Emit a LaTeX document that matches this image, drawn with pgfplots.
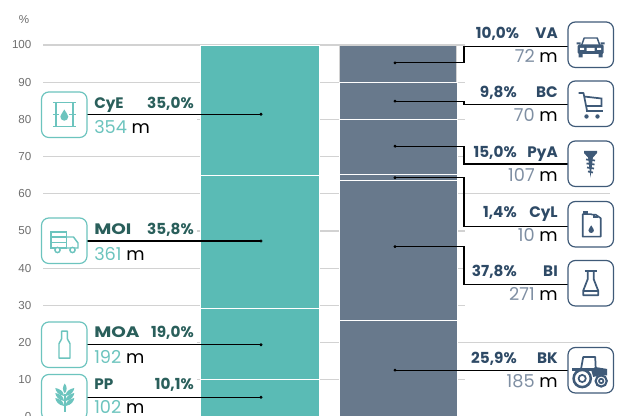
\documentclass[border=0pt]{standalone}
\usepackage{pgfplots}
\pgfplotsset{compat=1.18}
\usepackage{fontspec}
\setmainfont{Poppins}
\newfontfamily\tickf{Liberation Sans}
\definecolor{teal1}{HTML}{5ABBB5}
\definecolor{teal2}{HTML}{6CC4BE}
\definecolor{tealdk}{HTML}{2A5F5B}
\definecolor{slate1}{HTML}{68798C}
\definecolor{slatedk}{HTML}{2E4A66}
\definecolor{slatenum}{HTML}{7F8FA3}
\definecolor{iconblue}{HTML}{3F5A78}
\definecolor{gridc}{HTML}{D2D2D2}
\definecolor{tickc}{HTML}{6E6E6E}
\pgfplotsset{base/.style={
  at={(32.25pt,-0.75pt)},anchor=south west,scale only axis,
  width=425.25pt,height=279pt,xmin=43,xmax=610,ymin=0,ymax=100,
  clip=false,xtick=\empty,axis line style={draw=none},major tick length=0pt},
  segs/.style={base,ybar stacked,bar width=88.8pt},
  leader/.style={black,solid,line width=.85pt,no marks}}
\newcommand\bfs{\fontsize{11.4}{13}\selectfont\bfseries}
\newcommand\nfs{\fontsize{13.3}{15}\selectfont}
\newcommand\wide[1]{\scalebox{1.22}[1]{#1}}
\newcommand\ltxt[5]{% y1 y2 name pct num
  \node[anchor=base west,inner sep=0,text=tealdk] at (94,#1) {\bfs #3};
  \node[anchor=base east,inner sep=0,text=tealdk] at (194,#1) {\bfs #4};
  \node[anchor=base west,inner sep=0] at (94,#2) {\nfs\textcolor{teal2}{#5} m};}
\newcommand\rtxt[6]{% y1 y2 name pct num pctx
  \node[anchor=base east,inner sep=0,text=slatedk] at (558,#1) {\bfs #3};
  \node[anchor=base east,inner sep=0,text=slatedk] at (#6,#1) {\bfs #4};
  \node[anchor=base east,inner sep=0] at (558,#2) {\nfs\textcolor{slatenum}{#5} m};}
\newcommand\boxi[3]{\draw[#3,line width=.9pt,rounded corners=5.5pt] (#1,#2) rectangle +(45.5,45.5);}
\newcommand\dropp{(0,-7) .. controls (1.5,-3) and (5,-1) .. (5,2) .. controls (5,5) and (2.5,7) .. (0,7) .. controls (-2.5,7) and (-5,5) .. (-5,2) .. controls (-5,-1) and (-1.5,-3) .. (0,-7)}
\begin{document}
\begin{tikzpicture}
\path[use as bounding box] (0,0) rectangle (464.25pt,312pt);
\clip (0,0) rectangle (464.25pt,312pt);
% grid and left bar
\begin{axis}[segs,ytick={0,10,...,100},ymajorgrids,
  grid style={gridc,line width=.9pt},
  axis lines=left,
  /pgf/number format/assume math mode=true,
  yticklabel style={font=\tickf\fontsize{8.7}{10}\selectfont,text=tickc,inner sep=0pt,xshift=-8.5pt}]
\addplot[fill=teal1,draw=white,line width=.75pt] coordinates {(260,10.1)};
\addplot[fill=teal1,draw=white,line width=.75pt] coordinates {(260,19.0)};
\addplot[fill=teal1,draw=white,line width=.75pt] coordinates {(260,35.8)};
\addplot[fill=teal1,draw=white,line width=.75pt] coordinates {(260,35.0)};
\end{axis}
% right bar
\begin{axis}[segs,ytick=\empty,axis x line=none,axis y line=none]
\addplot[fill=slate1,draw=white,line width=.75pt] coordinates {(398.3,25.9)};
\addplot[fill=slate1,draw=white,line width=.75pt] coordinates {(398.3,37.8)};
\addplot[fill=slate1,draw=white,line width=.75pt] coordinates {(398.3,1.4)};
\addplot[fill=slate1,draw=white,line width=.75pt] coordinates {(398.3,15.0)};
\addplot[fill=slate1,draw=white,line width=.75pt] coordinates {(398.3,9.8)};
\addplot[fill=slate1,draw=gridc,line width=.75pt,bar width=87.5pt] coordinates {(398.3,10.0)};
\end{axis}
\begin{scope}[x=.75pt,y=-.75pt,shift={(0,312pt)}]
% masks over gridlines behind labels
\fill[white] (40,88) rectangle (197,142);
\fill[white] (40,214) rectangle (197,264);
\fill[white] (40,320) rectangle (197,368);
\fill[white] (40,372) rectangle (197,420);
\fill[white] (465,20) rectangle (615,70);
\fill[white] (465,78) rectangle (615,130);
\fill[white] (465,138) rectangle (615,188);
\fill[white] (465,198) rectangle (615,250);
\fill[white] (465,255) rectangle (615,310);
\fill[white] (465,346) rectangle (615,400);
\end{scope}
% leaders
\begin{axis}[base,axis x line=none,axis y line=none,ytick=\empty]
\addplot[leader] coordinates {(87,81.4)(261,81.4)};
\addplot[leader] coordinates {(87,47.3)(261,47.3)};
\addplot[leader] coordinates {(87,19.4)(261,19.4)};
\addplot[leader] coordinates {(87,5.3)(261,5.3)};
\addplot[leader] coordinates {(395,95.2)(464,95.2)(464,99.6)(568,99.6)};
\addplot[leader] coordinates {(395,84.9)(464,84.9)(464,84.05)(568,84.05)};
\addplot[leader] coordinates {(395,72.8)(464,72.8)(464,68)(568,68)};
\addplot[leader] coordinates {(395,64.3)(464,64.3)(464,51.2)(568,51.2)};
\addplot[leader] coordinates {(395,45.8)(464,45.8)(464,35.6)(568,35.6)};
\addplot[leader] coordinates {(395,12.6)(568,12.6)};
\addplot[only marks,mark=*,mark size=.9pt,black] coordinates {(261,81.4)(261,47.3)(261,19.4)(261,5.3)(395,95.2)(395,84.9)(395,72.8)(395,64.3)(395,45.8)(395,12.6)};
\end{axis}
\begin{scope}[x=.75pt,y=-.75pt,shift={(0,312pt)}]
\node[anchor=base,inner sep=0,text=tickc,font=\tickf\fontsize{8.7}{10}\selectfont] at (24,24) {\%};
\ltxt{109}{134}{CyE}{35,0\%}{354}
\ltxt{234.3}{261}{\wide{MOI}}{35,8\%}{361}
\ltxt{338}{364}{\wide{MOA}}{19,0\%}{192}
\ltxt{390}{414}{PP}{10,1\%}{102}
\rtxt{39}{62.7}{VA}{10,0\%}{72}{519.3}
\rtxt{97.7}{122}{BC}{9,8\%}{70}{517}
\rtxt{158}{182}{PyA}{15,0\%}{107}{517}
\rtxt{218}{242}{CyL}{1,4\%}{10}{517}
\rtxt{277}{301}{BI}{37,8\%}{271}{517}
\rtxt{363.7}{387.7}{BK}{25,9\%}{185}{517}
% icon boxes
\boxi{41.5}{92}{teal2}\boxi{41.5}{218}{teal2}\boxi{41.5}{322}{teal2}\boxi{41.5}{374.5}{teal2}
\boxi{568}{22}{iconblue}\boxi{568}{81}{iconblue}\boxi{568}{141}{iconblue}\boxi{568}{201.5}{iconblue}\boxi{568}{260.5}{iconblue}\boxi{568}{347.5}{iconblue}
% barrel
\begin{scope}[shift={(64.3,114.7)},teal2,line width=1.1pt]
\draw (-11.5,-12)--(11.5,-12) (-11.5,12)--(11.5,12) (-8.5,-12)--(-8.5,12) (8.5,-12)--(8.5,12);
\draw (-11.5,0)--(-5,0) (5,0)--(11.5,0);
\fill[scale=.8,shift={(0,.5)}] \dropp;
\end{scope}
% truck
\begin{scope}[shift={(64.5,241)},teal2,line width=1.1pt]
\draw (-13.5,-9) rectangle (2,7);
\draw (-13.5,-4)--(2,-4) (-13.5,1.5)--(2,1.5);
\draw (2,-4)--(9,-4)--(13.5,2)--(13.5,7)--(2,7);
\draw[fill=white] (-7,9) circle (2.6) (8,9) circle (2.6);
\end{scope}
% bottle
\begin{scope}[shift={(64.5,344.7)},teal2,line width=1.1pt]
\draw[line join=round] (-2.8,-13.5)--(2.8,-13.5)--(2.8,-6)--(5.5,-1)--(5.5,13.5)--(-5.5,13.5)--(-5.5,-1)--(-2.8,-6)--cycle;
\end{scope}
% wheat
\begin{scope}[shift={(64.8,398)},teal2,line width=1.1pt]
\foreach \s in {1,-1}{\foreach \q in {-2,3,8}{
 \fill[xscale=\s] (0.8,\q) .. controls (7,\q-1) and (9,\q-5) .. (9.5,\q-8) .. controls (5,\q-7) and (1,\q-5) .. (0.8,\q) -- cycle;}}
\fill (0,-14.5) .. controls (2.5,-11) and (2.5,-8) .. (0,-4.5) .. controls (-2.5,-8) and (-2.5,-11) .. (0,-14.5);
\draw (0,-4)--(0,14);
\end{scope}
% car
\begin{scope}[shift={(590.7,47)},iconblue,line width=1.1pt]
\draw[line join=round] (-9,-2)--(-6.5,-9)--(6.5,-9)--(9,-2);
\fill[rounded corners=1pt] (-13,-2.5) rectangle (13,7);
\fill (-12,6) rectangle (-8,10.5) (8,6) rectangle (12,10.5);
\fill (-14,-4.5) rectangle (-10,-2.5) (10,-4.5) rectangle (14,-2.5);
\fill[white] (-10.5,1) rectangle (-6.5,3) (6.5,1) rectangle (10.5,3) (-4,1) rectangle (4,4);
\end{scope}
% cart
\begin{scope}[shift={(590.5,104.5)},iconblue,line width=1.3pt]
\draw[line join=round] (-12,-11.5)--(-7,-11.5)--(-3.5,6);
\draw (-6.5,-8)--(11,-6)--(11,1.5)--(-4.5,1.5);
\draw[line width=1.8pt] (-5,6.5)--(12.5,6.5);
\fill (-4,12) circle (2.2) (7,12) circle (2.2);
\end{scope}
% screw
\begin{scope}[shift={(590.5,164.5)},iconblue,line width=1.3pt]
\fill (-6.5,-13.5)--(6.5,-13.5)--(6.5,-11.5)--(2.5,-7)--(-2.5,-7)--(-6.5,-11.5)--cycle;
\fill (-2.5,-8)--(2.5,-8)--(0,13)--cycle;
\draw (-4.5,-5)--(4.5,-4) (-4,-1)--(4,0) (-3.5,3)--(3.5,4) (-2.5,7)--(2.5,8);
\end{scope}
% can
\begin{scope}[shift={(591.2,224.2)},iconblue,line width=1.2pt]
\draw[line join=round] (-8.5,-10)--(-8.5,12.5)--(9.5,12.5)--(9.5,-6)--(4.5,-9.5)--(1,-9.5)--(0,-10)--cycle;
\fill (-8.5,-13)--(-3.5,-13)--(-3.5,-9.5)--(-8.5,-9.5)--cycle;
\draw (3,-9.5)--(3,-7)--(7,-7);
\fill[scale=.55,shift={(0,9)}] \dropp;
\end{scope}
% flask
\begin{scope}[shift={(590.7,283.2)},iconblue,line width=1.3pt]
\draw (-6,-12)--(6,-12);
\draw[line join=round] (-3,-12)--(-3,-4)--(-7.5,7.5)--(-7.5,12)--(7.5,12)--(7.5,7.5)--(3,-4)--(3,-12);
\draw (-7.5,7.5)--(7.5,7.5);
\end{scope}
% tractor
\begin{scope}[shift={(590.2,372)},iconblue,line width=1.3pt]
\draw[line width=1.9pt] (-8,6.5) circle (8.6);
\draw (-8,6.5) circle (3.6);
\draw[line width=1.6pt] (11,9) circle (5.6);
\draw (11,9) circle (2.2);
\draw[line join=round] (-9,-4)--(-7,-15)--(5,-15)--(5.5,-4);
\fill (5,-5) -- (17,-3) -- (17,3.5) -- (9,3.5) -- (3,5) -- (1,-2) -- cycle;
\fill (-18,-4) -- (5,-4) -- (5,-1) -- (-18,-1) -- cycle;
\end{scope}
\end{scope}
\end{tikzpicture}
\end{document}
